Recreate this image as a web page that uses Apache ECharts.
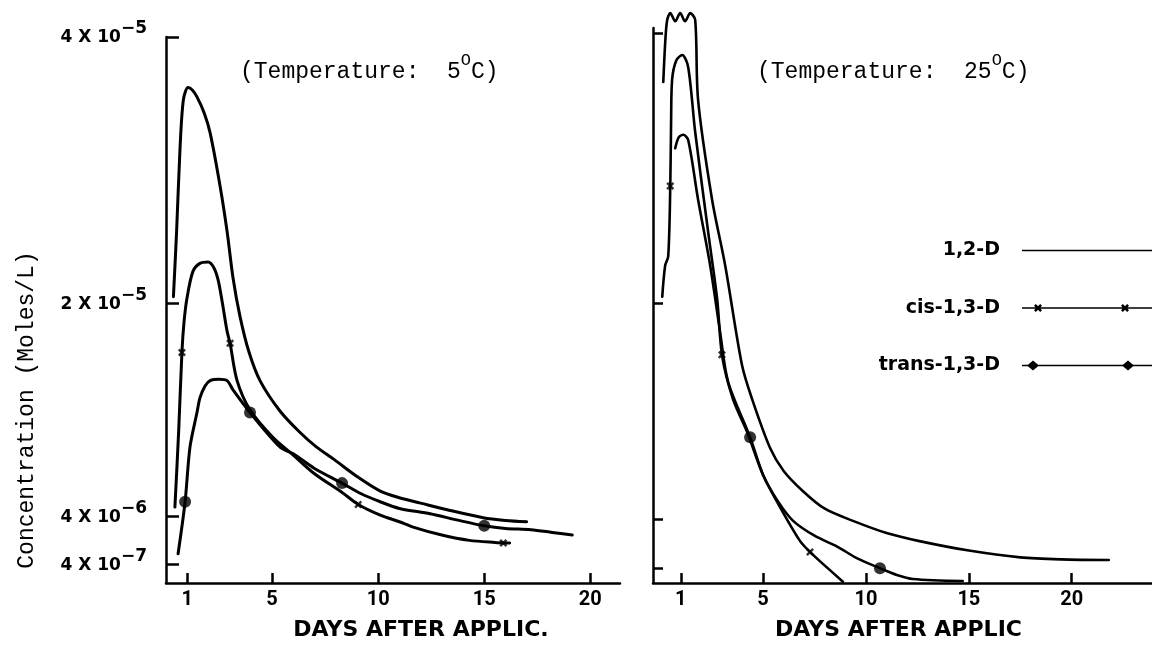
<!DOCTYPE html>
<html><head><meta charset="utf-8">
<script src="https://cdn.jsdelivr.net/npm/echarts@6/dist/echarts.min.js"></script>
<style>html,body{margin:0;padding:0;background:#fff}#c{width:1152px;height:646px}</style>
</head><body><div id="c"></div>
<script>
// ---------- data (concentration in units of 1e-6 mol/L) ----------
const xTickValues = [1, 5, 10, 15, 20];
const yTickValues = [0.4, 4, 20, 40];
const yTickMantissa = ['4', '4', '2', '4'];
const yTickExponent = ['\u22127', '\u22126', '\u22125', '\u22125'];
const seriesNames = ['1,2-D', 'cis-1,3-D', 'trans-1,3-D'];
const panelTemps = ['5', '25'];

// Temperature 5 °C  [day, concentration]
const d12_5C = [[0.35,20.5],[0.5,25.4],[0.66,31.6],[0.82,35.3],[1.04,36.2],[1.25,36.0],[1.46,35.5],[1.8,34.3],[2.08,32.8],[2.55,28.8],[2.88,25.4],[3.16,21.9],[3.49,19.0],[3.9,16.4],[4.43,14.2],[5.38,11.9],[6.32,10.3],[7.1,9.2],[7.9,8.3],[9.0,7.0],[10.1,5.9],[11.0,5.4],[12.0,5.0],[13.25,4.5],[14.95,3.9],[16.0,3.7],[17.0,3.6]];
const cis5C = [[0.42,4.7],[0.6,10.5],[0.75,16.3],[0.85,18.6],[0.99,20.4],[1.27,22.4],[1.6,23.0],[1.98,23.1],[2.25,22.7],[2.45,21.8],[2.64,20.2],[2.88,17.9],[3.02,17.0],[3.35,14.2],[3.96,12.0],[5.0,10.0],[6.0,8.6],[7.0,7.2],[8.3,5.8],[9.06,4.9],[10.1,4.1],[11.0,3.6],[11.65,3.2],[13.0,2.6],[14.3,2.2],[15.5,2.05],[16.2,2.0]];
const trans5C = [[0.57,1.2],[0.9,5.1],[1.13,9.2],[1.46,11.8],[1.6,12.9],[1.84,13.8],[2.08,14.2],[2.5,14.3],[2.88,14.2],[3.16,13.5],[3.96,11.8],[5.38,9.2],[6.0,8.7],[7.0,7.6],[8.3,6.5],[9.2,5.7],[10.1,5.1],[11.0,4.6],[12.45,4.2],[13.8,3.7],[15.0,3.3],[16.0,3.1],[17.2,3.0],[18.2,2.8],[19.15,2.6]];
const cisMarks5C = [[0.75,16.3],[3.02,17.0],[9.06,4.9],[15.9,2.0]];
const transMarks5C = [[0.9,5.1],[3.96,11.8],[8.3,6.5],[15.0,3.3]];

// Temperature 25 °C  [day, concentration]
const d12_25C = [[0.15,36.4],[0.25,39.5],[0.34,41.0],[0.49,41.5],[0.73,40.9],[0.97,41.5],[1.21,40.9],[1.46,41.5],[1.7,41.0],[1.84,35.1],[2.52,27.7],[3.16,22.8],[3.98,15.4],[4.47,12.9],[5.34,9.3],[6.0,7.6],[6.94,6.1],[8.0,4.8],[9.37,3.9],[11.0,3.0],[12.6,2.4],[15.0,1.7],[17.5,1.2],[19.5,1.05],[21.8,1.0]];
const cis25C = [[0.1,20.5],[0.24,22.8],[0.39,23.5],[0.49,28.7],[0.53,33.6],[0.58,36.6],[0.78,38.0],[1.07,38.4],[1.36,37.5],[1.7,32.7],[2.33,25.3],[2.77,20.3],[3.01,16.1],[3.54,12.9],[4.22,10.5],[5.0,7.3],[5.83,4.9],[6.8,2.4],[7.28,1.6],[7.77,0.9],[8.88,-0.6]];
const trans25C = [[0.73,31.5],[0.9,32.3],[1.12,32.5],[1.36,32.1],[1.84,27.7],[2.43,22.8],[2.91,17.9],[3.3,14.2],[4.37,10.1],[5.0,7.3],[5.7,5.4],[6.46,3.9],[7.5,2.8],[8.6,2.0],[9.6,1.1],[10.68,0.4],[11.5,-0.1],[12.28,-0.4],[14.7,-0.55]];
const cisMarks25C = [[0.49,28.7],[3.0,16.2],[7.28,1.6]];
const transMarks25C = [[4.37,10.1],[10.68,0.4]];

// ---------- styling helpers ----------
const INK = '#000';
function xGlyph(cx, cy, h, t) {
  return `M${cx-h},${cy-h+t} L${cx-h+t},${cy-h} L${cx+h},${cy+h-t} L${cx+h-t},${cy+h} Z ` +
         `M${cx+h-t},${cy-h} L${cx+h},${cy-h+t} L${cx-h+t},${cy+h} L${cx-h},${cy+h-t} Z`;
}
function diamond(cx, cy, w, h) {
  return `M${cx-w},${cy} L${cx},${cy-h} L${cx+w},${cy} L${cx},${cy+h} Z`;
}
const corners = 'M0,0 L0.01,0 L0.01,0.01 Z M129.99,13.99 L130,13.99 L130,14 Z ';
const baseLine = 'M0,6.2 L130,6.2 L130,7.8 L0,7.8 Z ';
const legendIcons = [
  'path://' + corners + baseLine,
  'path://' + corners + baseLine + xGlyph(16, 7, 4, 1.8) + ' ' + xGlyph(103, 7, 4, 1.8),
  'path://' + corners + baseLine + diamond(11, 7, 6, 5) + ' ' + diamond(106, 7, 6, 5)
];
const xMarkSymbol = 'path://' + xGlyph(5, 5, 5, 2.2);

const tickFont = {fontFamily: 'DejaVu Sans', fontWeight: 'bold', color: INK};

function xAxisCfg(idx, min, max, name, namePad) {
  return {
    type: 'value', gridIndex: idx, min: min, max: max,
    name: name, nameLocation: 'middle', nameGap: 36,
    nameTextStyle: {fontFamily: 'DejaVu Sans', fontWeight: 'bold', fontSize: 22, color: INK, padding: namePad},
    axisLine: {onZero: false, lineStyle: {color: INK, width: 2.5}},
    axisTick: {inside: true, length: 10, customValues: xTickValues, lineStyle: {color: INK, width: 2.5}},
    axisLabel: {customValues: xTickValues, margin: 7, fontFamily: 'Roboto', fontWeight: 'bold', fontSize: 20, color: INK},
    splitLine: {show: false}
  };
}
function yAxisCfg(idx, min, max, showLabels, tickLen) {
  return {
    type: 'value', gridIndex: idx, min: min, max: max,
    axisLine: {onZero: false, lineStyle: {color: INK, width: 2.5}},
    axisTick: {inside: true, length: tickLen, customValues: yTickValues, lineStyle: {color: INK, width: 2.5}},
    axisLabel: {
      show: showLabels, customValues: yTickValues, margin: 19, padding: [0, 0, 7, 0],
      formatter: function (v) {
        let i = yTickValues.findIndex(t => Math.abs(t - v) < 1e-9);
        if (i < 0) return '';
        return '{b|' + yTickMantissa[i] + ' X 10}{s|' + yTickExponent[i] + '}';
      },
      rich: {
        b: Object.assign({fontSize: 17, lineHeight: 26, verticalAlign: 'bottom'}, tickFont),
        s: Object.assign({fontSize: 17, verticalAlign: 'top'}, tickFont)
      }
    },
    splitLine: {show: false}
  };
}
function lineSeries(name, data, ax, w) {
  return {
    name: name, type: 'line', xAxisIndex: ax, yAxisIndex: ax, data: data,
    showSymbol: false, symbol: 'none', smooth: 0.3, clip: false,
    lineStyle: {color: INK, width: w, cap: 'round', join: 'round'}, itemStyle: {color: INK},
    silent: true, z: 2
  };
}
function markSeries(name, data, ax, symbol, size) {
  return {
    name: name, type: 'scatter', xAxisIndex: ax, yAxisIndex: ax, data: data,
    symbol: symbol, symbolSize: size, itemStyle: {color: INK, borderWidth: 0},
    silent: true, z: 3, clip: false
  };
}
function tempTitle(left, t) {
  return {
    text: '{m|(Temperature:  ' + t + '}{s|O}{m|C)}',
    left: left, top: 52, padding: 0,
    textStyle: {
      rich: {
        m: {fontFamily: 'Liberation Mono', fontSize: 23, fontWeight: 'normal', color: INK, lineHeight: 31, verticalAlign: 'bottom'},
        s: {fontFamily: 'Liberation Mono', fontSize: 17, fontWeight: 'normal', color: INK, verticalAlign: 'top'}
      }
    }
  };
}

const chart = echarts.init(document.getElementById('c'), null, {renderer: 'canvas'});
chart.setOption({
  backgroundColor: '#fff',
  animation: false,
  title: [tempTitle(240, panelTemps[0]), tempTitle(757, panelTemps[1])],
  grid: [
    {left: 166, top: 37, width: 454, height: 550, containLabel: false},
    {left: 653, top: 28, width: 499, height: 557, containLabel: false}
  ],
  xAxis: [
    xAxisCfg(0, 0, 21.4, 'DAYS AFTER APPLIC.', [0, 0, 0, 56]),
    xAxisCfg(1, -0.35, 23.9, 'DAYS AFTER APPLIC', [0, 8, 0, 0])
  ],
  yAxis: [
    yAxisCfg(0, -1, 40, true, 13),
    yAxisCfg(1, -0.7, 40.4, false, 10)
  ],
  legend: {
    data: seriesNames.map((n, i) => ({name: n, icon: legendIcons[i]})),
    orient: 'vertical', right: 0, top: 241, padding: 0,
    itemWidth: 130, itemHeight: 14, itemGap: 38.5, align: 'right',
    selectedMode: false,
    itemStyle: {color: INK, borderWidth: 0},
    textStyle: {fontFamily: 'DejaVu Sans', fontWeight: 'bold', fontSize: 19, color: INK, lineHeight: 14, padding: [0, 17, 0, 0]}
  },
  graphic: [{
    type: 'text', x: 27, y: 410, rotation: Math.PI / 2,
    style: {text: 'Concentration (Moles/L)', fontFamily: 'Liberation Mono', fontSize: 23, fill: INK, align: 'center', verticalAlign: 'middle'}
  }],
  series: [
    lineSeries(seriesNames[0], d12_5C, 0, 3),
    lineSeries(seriesNames[1], cis5C, 0, 3),
    lineSeries(seriesNames[2], trans5C, 0, 3),
    markSeries('cis markers 5C', cisMarks5C, 0, xMarkSymbol, 8),
    markSeries('trans markers 5C', transMarks5C, 0, 'circle', 12),
    lineSeries(seriesNames[0], d12_25C, 1, 2.6),
    lineSeries(seriesNames[1], cis25C, 1, 2.6),
    lineSeries(seriesNames[2], trans25C, 1, 2.6),
    markSeries('cis markers 25C', cisMarks25C, 1, xMarkSymbol, 8),
    markSeries('trans markers 25C', transMarks25C, 1, 'circle', 12)
  ]
});
</script>
</body></html>
